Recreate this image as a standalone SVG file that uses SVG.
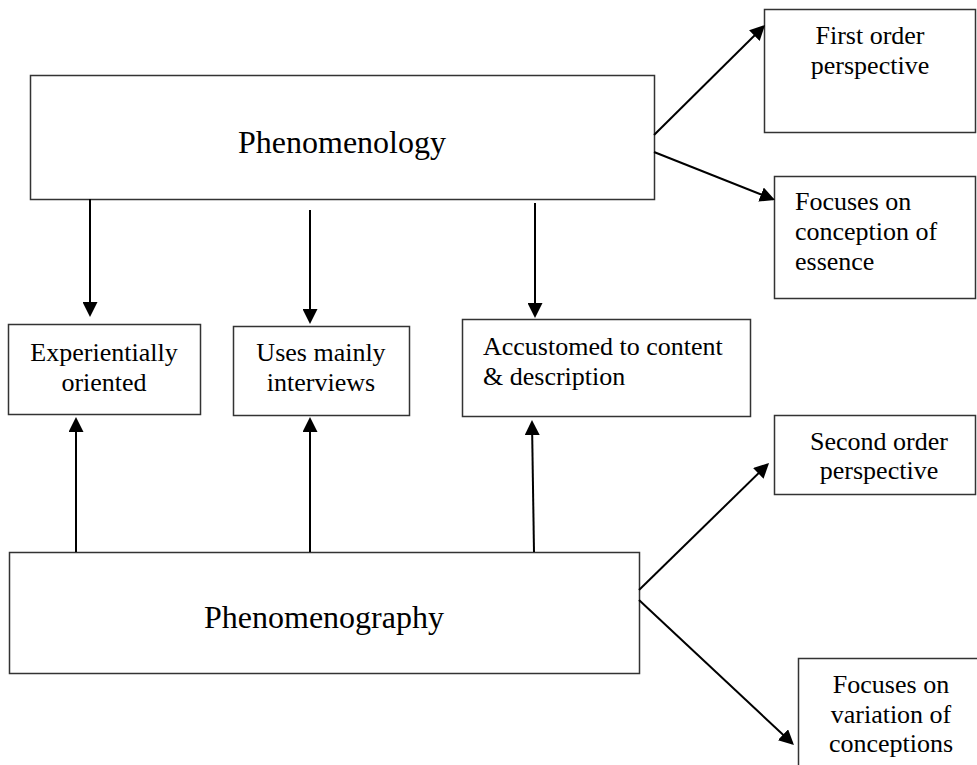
<svg xmlns="http://www.w3.org/2000/svg" width="977" height="765" viewBox="0 0 977 765">
<style>
.box{fill:#fff;stroke:#333;stroke-width:1.5}
.t{font-family:"Liberation Serif","Times New Roman",serif;font-size:26px;fill:#000}
.big{font-size:32px}
.c{text-anchor:middle}
.ln{stroke:#000;stroke-width:2;fill:none;marker-end:url(#ah)}
</style>
<defs>
<marker id="ah" viewBox="0 0 15 15" refX="13" refY="7.5" markerWidth="15" markerHeight="15" markerUnits="userSpaceOnUse" orient="auto">
<path d="M0,0 L15,7.5 L0,15 z" fill="#000"/>
</marker>
</defs>
<rect width="977" height="765" fill="#fff"/>
<g id="phenomenology">
<rect class="box" x="30.5" y="75.5" width="624" height="124"/>
<text class="t big c" x="342" y="153">Phenomenology</text>
</g>
<g id="first-order">
<rect class="box" x="764.5" y="9.5" width="211" height="123"/>
<text class="t c" x="870" y="44">First order</text>
<text class="t c" x="870" y="74">perspective</text>
</g>
<g id="focuses-essence">
<rect class="box" x="774.5" y="176.5" width="201" height="122"/>
<text class="t" x="795" y="210">Focuses on</text>
<text class="t" x="795" y="240">conception of</text>
<text class="t" x="795" y="270">essence</text>
</g>
<g id="experientially">
<rect class="box" x="8.5" y="324.5" width="192" height="90"/>
<text class="t c" x="104" y="361">Experientially</text>
<text class="t c" x="104" y="391">oriented</text>
</g>
<g id="interviews">
<rect class="box" x="233.5" y="326.5" width="176" height="89"/>
<text class="t c" x="321" y="361">Uses mainly</text>
<text class="t c" x="321" y="391">interviews</text>
</g>
<g id="accustomed">
<rect class="box" x="462.5" y="319.5" width="288" height="97"/>
<text class="t" x="483" y="355">Accustomed to content</text>
<text class="t" x="483" y="385">&amp; description</text>
</g>
<g id="second-order">
<rect class="box" x="774.5" y="415.5" width="201" height="79"/>
<text class="t c" x="879" y="450">Second order</text>
<text class="t c" x="879" y="479">perspective</text>
</g>
<g id="phenomenography">
<rect class="box" x="9.5" y="552.5" width="630" height="121"/>
<text class="t big c" x="324" y="628">Phenomenography</text>
</g>
<g id="focuses-variation">
<rect class="box" x="798.5" y="658.5" width="180" height="110"/>
<text class="t c" x="891" y="693">Focuses on</text>
<text class="t c" x="891" y="723">variation of</text>
<text class="t c" x="891" y="752">conceptions</text>
</g>
<g id="connectors">
<line class="ln" x1="654" y1="135" x2="763.6" y2="26.4"/>
<line class="ln" x1="654" y1="152" x2="773.1" y2="199.3"/>
<line class="ln" x1="90" y1="199" x2="90" y2="315"/>
<line class="ln" x1="310" y1="210" x2="310" y2="322"/>
<line class="ln" x1="535" y1="203" x2="535" y2="316"/>
<line class="ln" x1="76" y1="552" x2="76" y2="419"/>
<line class="ln" x1="310" y1="552" x2="310" y2="419"/>
<line class="ln" x1="534" y1="552" x2="532" y2="422"/>
<line class="ln" x1="639" y1="590" x2="767.6" y2="464.4"/>
<line class="ln" x1="639" y1="600" x2="792.5" y2="743.6"/>
</g>
</svg>
